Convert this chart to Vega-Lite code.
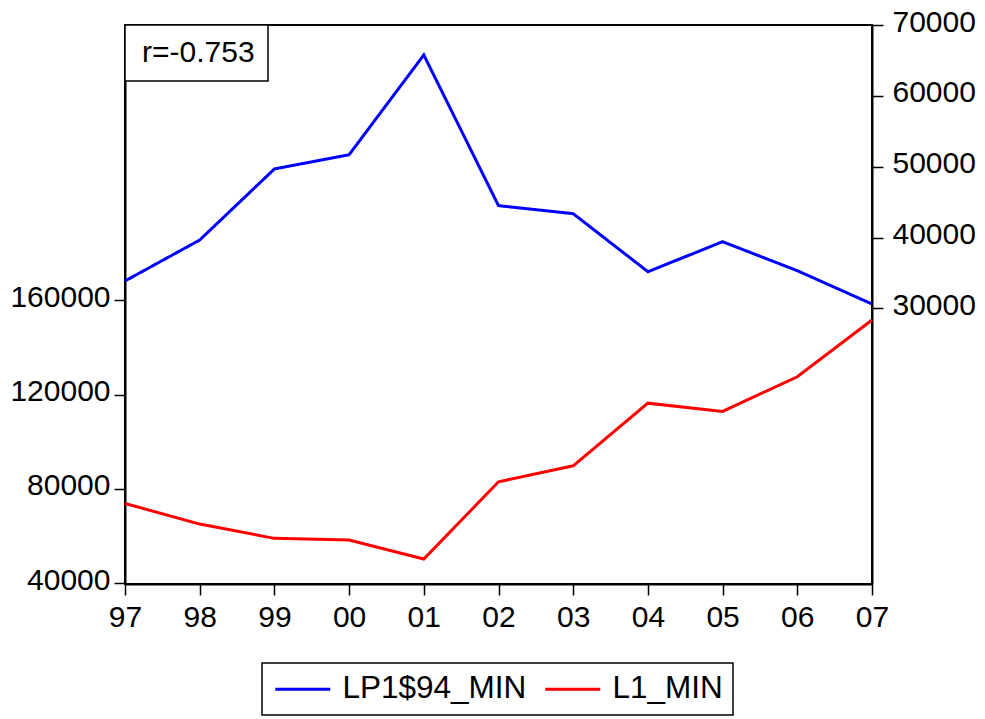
{
  "$schema": "https://vega.github.io/schema/vega-lite/v6.json",
  "width": 747,
  "height": 559,
  "autosize": {"type": "none"},
  "padding": {"left": 125, "top": 25, "right": 113, "bottom": 135},
  "background": "white",
  "config": {
    "view": {"stroke": "black", "strokeWidth": 2},
    "font": "Liberation Sans",
    "axis": {
      "domainColor": "black",
      "domainWidth": 2,
      "tickColor": "black",
      "tickWidth": 1.5,
      "tickSize": 11,
      "labelColor": "black",
      "labelFont": "Liberation Sans",
      "labelFontSize": 30,
      "grid": false
    },
    "legend": {
      "strokeWidth": 1.5,
      "labelFont": "Liberation Sans",
      "labelColor": "black"
    }
  },
  "data": {
    "values": [
      {"year": "97", "series": "LP1$94_MIN", "value": 33870},
      {"year": "98", "series": "LP1$94_MIN", "value": 39650},
      {"year": "99", "series": "LP1$94_MIN", "value": 49680},
      {"year": "00", "series": "LP1$94_MIN", "value": 51690},
      {"year": "01", "series": "LP1$94_MIN", "value": 65770},
      {"year": "02", "series": "LP1$94_MIN", "value": 44500},
      {"year": "03", "series": "LP1$94_MIN", "value": 43370},
      {"year": "04", "series": "LP1$94_MIN", "value": 35180},
      {"year": "05", "series": "LP1$94_MIN", "value": 39410},
      {"year": "06", "series": "LP1$94_MIN", "value": 35320},
      {"year": "07", "series": "LP1$94_MIN", "value": 30620},
      {"year": "97", "series": "L1_MIN", "value": 73800},
      {"year": "98", "series": "L1_MIN", "value": 65050},
      {"year": "99", "series": "L1_MIN", "value": 58980},
      {"year": "00", "series": "L1_MIN", "value": 58260},
      {"year": "01", "series": "L1_MIN", "value": 50190},
      {"year": "02", "series": "L1_MIN", "value": 83000},
      {"year": "03", "series": "L1_MIN", "value": 89800},
      {"year": "04", "series": "L1_MIN", "value": 116400},
      {"year": "05", "series": "L1_MIN", "value": 112900},
      {"year": "06", "series": "L1_MIN", "value": 127600},
      {"year": "07", "series": "L1_MIN", "value": 151700}
    ]
  },
  "encoding": {
    "x": {
      "field": "year",
      "type": "ordinal",
      "sort": null,
      "scale": {"type": "point", "padding": 0},
      "axis": {"labelAngle": 0, "labelPadding": 7, "title": null}
    }
  },
  "layer": [
    {
      "transform": [{"filter": "datum.series === 'LP1$94_MIN'"}],
      "mark": {"type": "line", "strokeWidth": 3},
      "encoding": {
        "y": {
          "field": "value",
          "type": "quantitative",
          "scale": {"domain": [-8900, 70000], "nice": false, "zero": false},
          "axis": {"orient": "right", "values": [30000, 40000, 50000, 60000, 70000], "format": "d", "title": null, "labelPadding": 9, "labelOffset": -3}
        },
        "color": {
          "field": "series",
          "type": "nominal",
          "scale": {"domain": ["LP1$94_MIN", "L1_MIN"], "range": ["#0000ff", "#ff0000"]},
          "legend": {
            "orient": "none",
            "legendX": 137,
            "legendY": 638,
            "direction": "horizontal",
            "title": null,
            "strokeColor": "black",
            "fillColor": "white",
            "padding": 10,
            "symbolType": "M-1,0H3.4",
            "symbolSize": 625,
            "symbolStrokeWidth": 3,
            "labelOffset": 39,
            "columnPadding": 12,
            "labelFontSize": 31.5,
            "labelLimit": 400
          }
        },
        "strokeDash": {
          "datum": "r=-0.753",
          "scale": {"range": [[1, 0]]},
          "legend": {
            "orient": "top-left",
            "offset": 0,
            "title": null,
            "strokeColor": "black",
            "fillColor": "white",
            "padding": 13,
            "symbolType": "circle",
            "symbolSize": 1,
            "symbolOpacity": 0,
            "labelOffset": -26,
            "labelFontSize": 30,
            "labelLimit": 400
          }
        }
      }
    },
    {
      "transform": [{"filter": "datum.series === 'L1_MIN'"}],
      "mark": {"type": "line", "strokeWidth": 3},
      "encoding": {
        "y": {
          "field": "value",
          "type": "quantitative",
          "scale": {"domain": [39600, 277000], "nice": false, "zero": false},
          "axis": {"orient": "left", "values": [40000, 80000, 120000, 160000], "format": "d", "title": null, "labelPadding": 4, "labelOffset": -3}
        },
        "color": {"field": "series", "type": "nominal"}
      }
    }
  ],
  "resolve": {"scale": {"y": "independent"}}
}
